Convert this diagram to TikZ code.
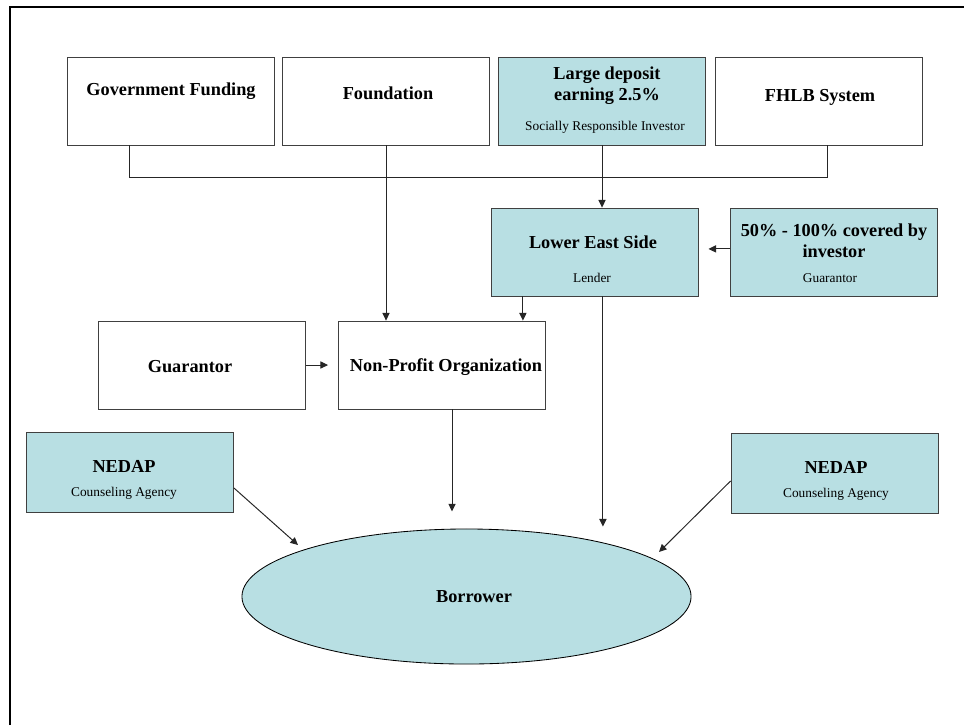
\documentclass[tikz,border=0pt]{standalone}
\usepackage{fontspec}
\setmainfont{Liberation Serif}
\usetikzlibrary{arrows.meta,shapes.geometric}
\definecolor{paleblue}{HTML}{B8DFE3}
\definecolor{edge}{HTML}{404040}

\begin{document}
\begin{tikzpicture}[x=0.025cm,y=-0.025cm,
    box/.style={draw=edge,line width=0.6pt,fill=white,minimum width=5.175cm,minimum height=2.2cm,inner sep=0pt},
    bluebox/.style={box,fill=paleblue},
    title/.style={font=\fontsize{13}{15}\selectfont\bfseries,align=center,inner sep=0pt},
    sub/.style={font=\fontsize{9.5}{11}\selectfont,inner sep=0pt},
    line/.style={draw=black!85,line width=0.7pt},
    arr/.style={line,-{Triangle[length=1.9mm,width=1.8mm]}}]
  \useasboundingbox (0,0) rectangle (964,725);
  \draw [line width=1.8pt] (10,725) -- (10,7) -- (964,7);

  % top row
  \node [box] (gov) at (170.5,101) {};
  \node [title] (govT) at (171,91) {Government Funding};
  \node [box] (found) at (386,101) {};
  \node [title] (foundT) at (388,93) {Foundation};
  \node [bluebox] (deposit) at (602,101) {};
  \node [title] (depositT) at (607,86) {Large deposit\\earning 2.5\%};
  \node [sub] (depositS) at (605,127) {Socially Responsible Investor};
  \node [box] (fhlb) at (818.5,101) {};
  \node [title] (fhlbT) at (820,97) {FHLB System};

  % lender row
  \node [bluebox] (les) at (594.5,252) {};
  \node [title] (lesT) at (593,242) {Lower East Side};
  \node [sub] (lesS) at (592,278) {Lender};
  \node [bluebox] (cover) at (834,252.5) {};
  \node [title] (coverT) at (834,241) {50\% - 100\% covered by\\investor};
  \node [sub] (coverS) at (830,278) {Guarantor};

  % middle row
  \node [box] (guar) at (202,365) {};
  \node [title] (guarT) at (190,367) {Guarantor};
  \node [box] (npo) at (442,365) {};
  \node [title] (npoT) at (446,367) {Non-Profit Organization};

  % counseling and borrower
  \node [bluebox,minimum height=2cm] (nedapL) at (130,472) {};
  \node [title] (nedapLT) at (124,466) {NEDAP};
  \node [sub] (nedapLS) at (124,493) {Counseling Agency};
  \node [bluebox,minimum height=2cm] (nedapR) at (834.5,473) {};
  \node [title] (nedapRT) at (836,467) {NEDAP};
  \node [sub] (nedapRS) at (836,494) {Counseling Agency};
  \node [draw=black,line width=0.6pt,fill=paleblue,ellipse,minimum width=11.225cm,minimum height=3.375cm,inner sep=0pt] (borrower) at (466.5,596.5) {};
  \node [title] (borrowerT) at (474,597) {Borrower};

  \coordinate (lesL) at ([xshift=-1.79cm]les.south);
  \coordinate (lesR) at ([xshift=0.21cm]les.south);
  \coordinate (npoD) at ([xshift=0.25cm]npo.south);
  \coordinate (tipL) at (298,545);
  \coordinate (tipR) at (659,552);

  % connectors
  \draw [line] ([xshift=-1.0125cm]gov.south) -- ++(0,32) -| ([xshift=0.2125cm]fhlb.south);
  \draw [arr] (found.south) -- (found.south |- npo.north);
  \draw [arr] (deposit.south) -- (deposit.south |- les.north);
  \draw [arr,shorten >=0.25cm] ([yshift=0.09cm]cover.west) -- ([yshift=0.09cm]cover.west -| les.east);
  \draw [arr] (lesL) -- (lesL |- npo.north);
  \draw [arr,shorten >=0.25cm] (guar.east) -- (npo.west);
  \draw [arr,shorten >=0.05cm] (lesR) -- (lesR |- borrower.north);
  \draw [arr,shorten >=0.43cm] (npoD) -- (npoD |- borrower.north);
  \draw [arr] ([yshift=-0.4cm]nedapL.east) -- (tipL);
  \draw [arr] ([yshift=-0.2cm]nedapR.west) -- (tipR);
\end{tikzpicture}
\end{document}
